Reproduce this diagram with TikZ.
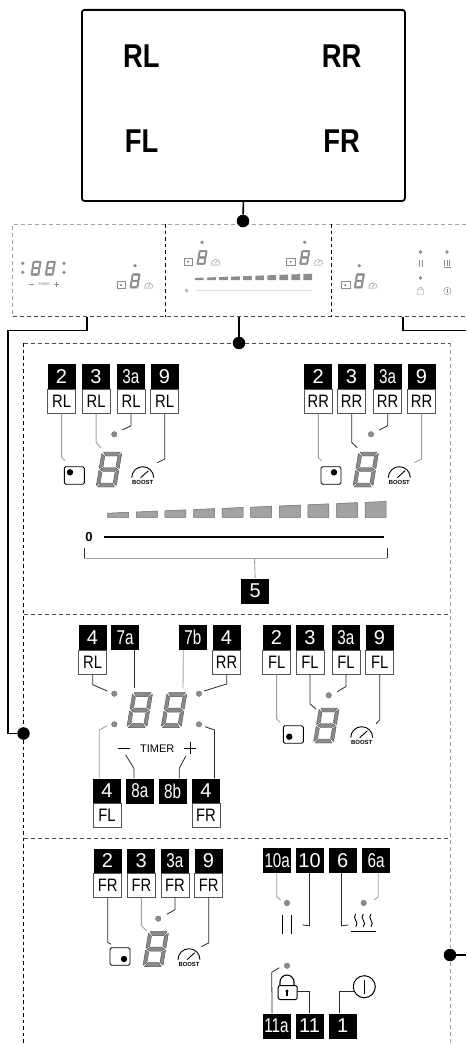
\documentclass[tikz,border=0pt]{standalone}
\usepackage{fontspec}
\usepackage{graphicx}
\setmainfont{Liberation Sans}
\definecolor{ledgray}{HTML}{8C8C8C}
\definecolor{seggray}{HTML}{8A8A8A}
\definecolor{segedge}{HTML}{555555}
\definecolor{barfill}{HTML}{A2A2A2}
\definecolor{barline}{HTML}{6A6A6A}
\definecolor{lg}{HTML}{A0A0A0}
\definecolor{ld}{HTML}{2A2A2A}
\tikzset{
  x=1pt,y=-1pt,
  bignum/.style={fill=black,text=white,minimum width=28pt,minimum height=25pt,inner sep=0pt,anchor=north west,font=\fontsize{20}{20}\selectfont},
  lab/.style={fill=white,draw=segedge,line width=.7pt,text=black,minimum width=28pt,minimum height=24pt,inner sep=0pt,anchor=north west,font=\fontsize{18}{18}\selectfont},
  hoblabel/.style={font=\bfseries\fontsize{33}{33}\selectfont,inner sep=0pt},
  lnkg/.style={draw=lg,line width=.9pt},
  lnkd/.style={draw=ld,line width=.8pt},
  heavy/.style={draw=black,line width=1.6pt},
  bigdot/.style={circle,fill=black,minimum size=12.5pt,inner sep=0pt},
  led/.style={circle,fill=ledgray,draw=ledgray!70!black,line width=.3pt,minimum size=5.5pt,inner sep=0pt},
  minled/.style={circle,fill=ledgray,minimum size=3.6pt,inner sep=0pt},
  gdash/.style={draw=lg,line width=.8pt,dash pattern=on 4pt off 3pt},
  gdark/.style={draw=black!70,line width=.7pt,dash pattern=on 4pt off 3pt},
  kdash/.style={draw=black,line width=.8pt,dash pattern=on 3.5pt off 3pt},
  icon/.style={draw=black,line width=.9pt},
  minicon/.style={draw=black!45,line width=.45pt},
}
\newcommand{\cn}[1]{\scalebox{.76}[1]{#1}}
\newcommand{\nr}[1]{\scalebox{.82}[1]{#1}}
\newcommand{\hl}[1]{\scalebox{.83}[1]{#1}}
% number tag with label below
\newcommand{\tagpair}[5]{%
  \node[bignum] (#1-t) at (#2,#3) {#4};
  \node[lab] (#1-b) at (#2,#3+25) {\nr{#5}};
}
\newcommand{\tagone}[4]{\node[bignum] (#1-t) at (#2,#3) {#4};}
% connector with one elbow, ending in a named free point
\newcommand{\conn}[6]{%
  \coordinate (#1e) at (#5,#6);
  \draw[#3] (#2) -- ++(0,#4) -- (#1e);
}
% seven segment digit: x,y = top-left of bounding box, s = scale, style colours
\newcommand{\sevenseg}[4][segedge]{%
  \begin{scope}[shift={(#2+6*#4,#3)},xslant=.17,scale=#4,draw=#1,fill=seggray,line width=.45pt,line join=round]
    \filldraw (1.5,0)--(18.5,0)--(15.5,4)--(4.5,4)--cycle;
    \filldraw (0,1.5)--(3.5,4.5)--(3.5,14.5)--(0,16.5)--cycle;
    \filldraw (20,1.5)--(16.5,4.5)--(16.5,14.5)--(20,16.5)--cycle;
    \filldraw (1,17.5)--(4.5,15.5)--(15.5,15.5)--(19,17.5)--(15.5,19.5)--(4.5,19.5)--cycle;
    \filldraw (0,18.5)--(3.5,20.5)--(3.5,30.5)--(0,33.5)--cycle;
    \filldraw (20,18.5)--(16.5,20.5)--(16.5,30.5)--(20,33.5)--cycle;
    \filldraw (1.5,35)--(18.5,35)--(15.5,31)--(4.5,31)--cycle;
  \end{scope}%
}
\newcommand{\btnicon}[4]{% x y dotdx dotdy
  \draw[icon,rounded corners=1.5pt] (#1,#2) rectangle (#1+20,#2+17.5);
  \fill[black] (#1+#3,#2+#4) circle[radius=3.2pt];
}
\newcommand{\gaugeicon}[2]{%
  \draw[icon] (#1-11,#2+1) arc[start angle=180,end angle=0,radius=11pt];
  \draw[icon] (#1-2,#2+1) -- (#1+5.7,#2-6);
  \node[font=\bfseries\fontsize{5.9}{5.9}\selectfont,inner sep=0pt] at (#1,#2+5.5) {BOOST};
}
\newcommand{\mini}[2]{% led position
  \node[minled] at (#1,#2) {};
  \draw[minicon] (#1-18,#2+15.5) rectangle ++(8.5,7);
  \fill[black!60] (#1-14,#2+19.5) circle[radius=1pt];
  \sevenseg[black!45]{#1-5.3}{#2+8}{.41}
  \draw[minicon] (#1+9.5,#2+21.5) arc[start angle=180,end angle=0,radius=4.3pt];
  \draw[minicon] (#1+13,#2+21) -- (#1+15.5,#2+18);
  \node[text=black!50,font=\fontsize{2.4}{2.4}\selectfont,inner sep=0pt] at (#1+13.8,#2+23) {BOOST};
}
\begin{document}
\begin{tikzpicture}
\useasboundingbox (0,0) rectangle (466,1046);
\fill[white] (0,0) rectangle (466,1046);

% ---------- top hob box
\node[draw=black,line width=1.8pt,rounded corners=2.5pt,minimum width=323pt,minimum height=191pt,inner sep=0pt,anchor=north west] (hob) at (81,9) {};
\node[hoblabel] (lblRL) at (141.3,56) {\hl{RL}};
\node[hoblabel] (lblRR) at (341.7,56) {\hl{RR}};
\node[hoblabel] (lblFL) at (141.7,141) {\hl{FL}};
\node[hoblabel] (lblFR) at (341.7,141) {\hl{FR}};

% ---------- panel strip
\draw[gdash] (466,224) -- (12.7,224) -- (12.7,316.7);
\draw[gdark] (12.7,316.7) -- (466,316.7);
\draw[kdash] (165,224) -- (165,316.7);
\draw[kdash] (331,224) -- (331,316.7);

\node[bigdot] (dotTop) at (243,221) {};
\draw[heavy] (hob.south) -- (dotTop);

% left panel
\foreach \px/\py in {22.7/263.3,22.7/272.3,64/263.3,64/272.3}{\node[minled] at (\px,\py) {};}
\sevenseg[black!45]{30.7}{261}{.41}
\sevenseg[black!45]{45}{261}{.41}
\draw[minicon] (29,284.3) -- (34.3,284.3);
\node[text=black!55,font=\fontsize{3.6}{3.6}\selectfont,inner sep=0pt] (miniTimer) at (44,284.3) {TIMER};
\draw[minicon] (53.5,284.3) -- (58.5,284.3) (56,281.8) -- (56,286.8);
\mini{135}{265.7}

% middle panel
\mini{202}{242.3}
\mini{304.7}{242.3}
\foreach \i in {0,...,9}{
  \pgfmathsetmacro\xa{195+12.05*\i}
  \pgfmathsetmacro\ta{278-0.44*\i}
  \pgfmathsetmacro\tb{277.6-0.44*\i}
  \fill[ledgray] (\xa,\ta) -- (\xa+8.7,\tb) -- (\xa+8.7,280.2) -- (\xa,280.2) -- cycle;
}
\draw[black!12,line width=1pt] (195,290.7) -- (313,290.7);
\draw[black!50,line width=.4pt] (186.7,290.7) circle[radius=1.4pt];

% right panel
\mini{359.3}{265.7}
\foreach \px/\py in {420.5/252,447/252,420.5/278}{\node[minled] at (\px,\py) {};}
\draw[minicon] (419,260) -- (419,267) (422,260) -- (422,267);
\draw[minicon] (443.5,267) -- (451,267);
\foreach \wx in {444.5,447,449.5}{\draw[minicon] (\wx,260) -- (\wx,265.5);}
\draw[minicon,rounded corners=.5pt] (417.5,289.5) rectangle (423.5,294.5);
\draw[minicon] (418.5,289.5) arc[start angle=180,end angle=0,radius=2pt];
\draw[minicon] (447.3,291) circle[radius=3.7pt];
\draw[minicon] (447.3,289) -- (447.3,293);

% panel connectors
\coordinate (pL) at (87,316.7);
\coordinate (pM) at (239,316.7);
\coordinate (pR) at (403,316.7);
\coordinate (edgeR1) at (466,330.5);
\coordinate (edgeR2) at (466,955);
\node[bigdot] (dotMain) at (239,343) {};
\node[bigdot] (dotLeft) at (23.5,733.5) {};
\node[bigdot] (dotRight) at (450,955) {};
\draw[heavy] (pM) -- (dotMain);
\draw[heavy] (pL) -- (87,330.5) -- (8,330.5) -- (8,733.5) -- (dotLeft);
\draw[heavy] (pR) -- (403,330.5) -- (edgeR1);
\draw[heavy] (edgeR2) -- (dotRight);

% ---------- big dashed frame
\draw[gdark] (23.5,343) -- (233,343) (245,343) -- (450,343);
\draw[kdash] (23.5,343) -- (23.5,727);
\draw[kdash] (23.5,740) -- (23.5,1046);
\draw[gdash] (450,343) -- (450,948);
\draw[gdash] (450,962) -- (450,1046);
\draw[gdark] (23.5,614) -- (450,614);
\draw[gdark] (23.5,838) -- (450,838);

% ---------- RL cluster
\tagpair{rla}{47.3}{364}{2}{RL}
\tagpair{rlb}{81.7}{364}{3}{RL}
\tagpair{rlc}{116.7}{364}{\cn{3a}}{RL}
\tagpair{rld}{150.3}{364}{9}{RL}
\conn{rla}{rla-b.south}{lnkg}{44}{65}{460.7}
\conn{rlb}{rlb-b.south}{lnkg}{28.7}{101}{448}
\conn{rlc}{rlc-b.south}{lnkd}{12}{122.3}{430}
\conn{rld}{rld-b.south}{lnkd}{45.3}{157.3}{462.7}
\node[led] (rlled) at (114.3,434.3) {};
\btnicon{64.3}{466.7}{5.7}{5.6}
\sevenseg{96}{452}{1}
\gaugeicon{142.7}{476.7}

% ---------- RR cluster
\tagpair{rra}{304}{364}{2}{RR}
\tagpair{rrb}{337.3}{364}{3}{RR}
\tagpair{rrc}{373.3}{364}{\cn{3a}}{RR}
\tagpair{rrd}{407.3}{364}{9}{RR}
\conn{rra}{rra-b.south}{lnkg}{44.3}{321.7}{460.7}
\conn{rrb}{rrb-b.south}{lnkd}{28.7}{357.3}{447.7}
\conn{rrc}{rrc-b.south}{lnkd}{12}{379.3}{430}
\conn{rrd}{rrd-b.south}{lnkg}{45.3}{414}{462.7}
\node[led] (rrled) at (371,434.3) {};
\btnicon{321}{466.7}{13}{5.6}
\sevenseg{352.7}{452}{1}
\gaugeicon{399.3}{476.7}

% ---------- power bars
\foreach \i in {0,...,9}{
  \pgfmathsetmacro\xa{107.7+28.6*\i}
  \pgfmathsetmacro\ta{513.2-1.2*\i}
  \pgfmathsetmacro\tb{512.2-1.2*\i}
  \filldraw[draw=barline,fill=barfill,line width=.5pt] (\xa,\ta) -- (\xa+21,\tb) -- (\xa+21,517.3) -- (\xa,517.3) -- cycle;
}
\node[font=\bfseries\fontsize{13}{13}\selectfont,inner sep=0pt] (zero) at (89,537.3) {0};
\coordinate (sliderL) at (104,537.3);
\coordinate (sliderR) at (384,537.3);
\draw[draw=black,line width=1.8pt] (sliderL) -- (sliderR);
\tagone{five}{241}{578.3}{5}
\coordinate (brL) at (84,548.3);
\coordinate (brLb) at (84,558.3);
\coordinate (brR) at (387.3,548.3);
\coordinate (brRb) at (387.3,558.3);
\coordinate (brM) at (254.5,558.3);
\draw[lnkg] (brLb) -- (brRb);
\draw[lnkg] (brM) -- (five-t.north);
\draw[lnkd] (brL) -- (brLb);
\draw[lnkd] (brR) -- (brRb);

% ---------- timer block
\tagpair{trl}{78.3}{625}{4}{RL}
\tagone{tsa}{111}{625}{\cn{7a}}
\tagone{tsb}{178.7}{625}{\cn{7b}}
\tagpair{trr}{212.3}{625}{4}{RR}
\tagpair{tfl}{92.7}{778.3}{4}{FL}
\tagone{tma}{125.7}{778.3}{\cn{8a}}
\tagone{tmb}{158.3}{778.3}{\cn{8b}}
\tagpair{tfr}{191.7}{778.3}{4}{FR}
\node[led] (l1) at (114.3,693.7) {};
\node[led] (l2) at (114.3,724.3) {};
\node[led] (l3) at (199,693.7) {};
\node[led] (l4) at (199,724.3) {};
\sevenseg{126.7}{692.7}{1}
\sevenseg{161}{692.7}{1}
\conn{trl}{trl-b.south}{lnkd}{10}{107.3}{691}
\conn{trr}{trr-b.south}{lnkd}{9.3}{204}{691}
\coordinate (sa) at (134.7,688.3);
\coordinate (sb) at (183,688.3);
\draw[lnkd] ([xshift=9.5pt]tsa-t.south) -- (sa);
\draw[lnkg] ([xshift=-9.6pt]tsb-t.south) -- (sb);
\conn{tfl}{[xshift=-7.7pt]tfl-t.north}{lnkg}{-48.3}{107.3}{725.7}
\conn{tfr}{[xshift=8.5pt]tfr-t.north}{lnkd}{-48.3}{205}{726.7}
\conn{tma}{[xshift=-6pt]tma-t.north}{lnkd}{-10}{125.7}{755}
\conn{tmb}{[xshift=6.8pt]tmb-t.north}{lnkd}{-10}{186}{755.7}
\node[font=\fontsize{11}{11}\selectfont,inner sep=0pt] (timer) at (157.3,749) {TIMER};
\draw[icon,line width=1pt] (118.3,748.3) -- (130,748.3);
\draw[icon,line width=1pt] (184,748.3) -- (196,748.3) (190,742.3) -- (190,754.3);

% ---------- FL cluster
\tagpair{fla}{262.3}{625}{2}{FL}
\tagpair{flb}{295.7}{625}{3}{FL}
\tagpair{flc}{331.7}{625}{\cn{3a}}{FL}
\tagpair{fld}{365.3}{625}{9}{FL}
\conn{fla}{fla-b.south}{lnkg}{44.3}{280}{722.3}
\conn{flb}{flb-b.south}{lnkd}{29.3}{316}{709}
\conn{flc}{flc-b.south}{lnkd}{11.7}{337.3}{691.7}
\conn{fld}{fld-b.south}{lnkd}{45.3}{376}{723.7}
\node[led] (flled) at (328.7,695.3) {};
\btnicon{283.3}{725.7}{6}{11}
\sevenseg{313.3}{708}{1}
\gaugeicon{361.7}{736.7}

% ---------- FR cluster
\tagpair{fra}{93.3}{848.3}{2}{FR}
\tagpair{frb}{127}{848.3}{3}{FR}
\tagpair{frc}{160.7}{848.3}{\cn{3a}}{FR}
\tagpair{frd}{194.3}{848.3}{9}{FR}
\conn{fra}{fra-b.south}{lnkd}{44.4}{111}{944.3}
\conn{frb}{frb-b.south}{lnkg}{27.7}{146.7}{931}
\conn{frc}{frc-b.south}{lnkd}{11.7}{166.7}{914.3}
\conn{frd}{frd-b.south}{lnkd}{45}{201}{946.7}
\node[led] (frled) at (158.3,918.7) {};
\btnicon{110}{947.7}{14}{11.3}
\sevenseg{142.7}{931.7}{1}
\gaugeicon{189}{958.7}

% ---------- right lower block
\tagone{xa}{263}{847.7}{\cn{10a}}
\tagone{xb}{295.3}{847.7}{10}
\tagone{xc}{328.5}{847.7}{6}
\tagone{xd}{361.8}{847.7}{\cn{6a}}
\node[led] (xled1) at (287,903) {};
\node[led] (xled2) at (363.7,903) {};
\conn{xa}{[xshift=-.5pt]xa-t.south}{lnkg}{23.7}{280.7}{900}
\conn{xb}{xb-t.south}{lnkd}{52.7}{302.7}{925}
\conn{xc}{[xshift=-1.2pt]xc-t.south}{lnkd}{52.7}{348.3}{925}
\conn{xd}{[xshift=2.2pt]xd-t.south}{lnkg}{23.7}{374}{900}
\draw[icon] (282.3,915) -- (282.3,933.7) (291.7,915) -- (291.7,933.7);
\foreach \wx in {355.7,363.3,371}{
  \draw[icon] (\wx,914) .. controls (\wx-4.5,918) and (\wx+4.5,922.5) .. (\wx,926.7);
}
\draw[icon,line width=1.2pt] (351,931.7) -- (376,931.7);

\tagone{ya}{262.3}{1013.3}{\cn{11a}}
\tagone{yb}{295.3}{1013.3}{11}
\tagone{yc}{328.5}{1013.3}{1}
\node[led] (yled) at (287,965.7) {};
\coordinate (yaend) at (279.3,967.7);
\coordinate (yaelbow) at (271.7,972.3);
\draw[lnkd] ([xshift=-4.4pt]ya-t.north) -- (yaelbow) -- (yaend);
% lock
\node[draw=black,line width=1pt,rounded corners=2pt,minimum width=19pt,minimum height=14pt,inner sep=0pt,anchor=north west] (lockbody) at (277.7,985) {};
\draw[icon,line width=1.1pt] (280,985) -- (280,982) arc[start angle=180,end angle=0,radius=7pt] -- (294,985);
\fill[black] (287,991) circle[radius=1.7pt];
\fill[black] (286.2,991) rectangle (287.8,995.5);
% power symbol
\node[draw=black,line width=1pt,circle,minimum size=22pt,inner sep=0pt] (power) at (364.3,986.7) {};
\draw[icon] (364.3,980) -- (364.3,993.5);
\coordinate (lockend) at (296.7,991);
\coordinate (powerend) at (354.3,991);
\draw[lnkd] (lockend) -- (yb-t.north |- lockend) -- (yb-t.north);
\draw[lnkd] ([xshift=-3.2pt]yc-t.north) |- (powerend);
\end{tikzpicture}
\end{document}
